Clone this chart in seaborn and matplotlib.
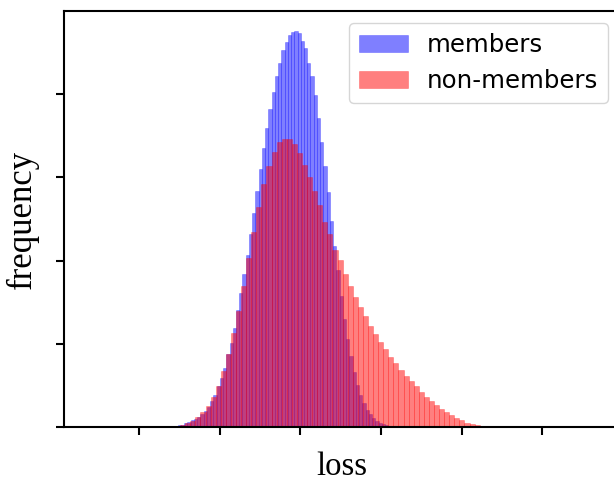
import numpy as np
import pandas as pd
import matplotlib
matplotlib.use("Agg")
import matplotlib.pyplot as plt
import seaborn as sns

# bin ranges (x in loss units)
member_range = (1.399, 4.129)
nonmember_range = (1.384, 5.411)

# bar heights (frequency) per bin
members = [8, 10, 12, 16, 24, 32, 42, 51, 63, 78, 96, 123, 157, 193, 247, 293,
           353, 439, 507, 593, 702, 806, 918, 1032, 1157, 1287, 1415, 1547,
           1672, 1794, 1906, 2010, 2104, 2183, 2265, 2313, 2355, 2373, 2379,
           2365, 2319, 2273, 2183, 2104, 1990, 1856, 1708, 1566, 1409, 1235,
           1086, 942, 786, 648, 527, 427, 329, 253, 193, 147, 104, 80, 56, 40,
           28, 20, 12, 8]
non_members = [8, 10, 14, 26, 38, 62, 93, 128, 180, 247, 337, 437, 565, 698,
               850, 1016, 1169, 1319, 1457, 1565, 1650, 1708, 1726, 1726, 1696,
               1643, 1571, 1501, 1415, 1331, 1231, 1159, 1066, 1002, 918, 846,
               780, 720, 666, 607, 559, 511, 469, 421, 385, 343, 307, 277, 247,
               211, 181, 157, 134, 110, 90, 74, 56, 42, 28, 22, 16, 10, 8, 6]

x_ticks = [1, 2, 3, 4, 5, 6]
y_ticks = [0, 500, 1000, 1500, 2000]

edges_m = np.linspace(member_range[0], member_range[1], len(members) + 1)
edges_n = np.linspace(nonmember_range[0], nonmember_range[1], len(non_members) + 1)
df_m = pd.DataFrame({'loss': (edges_m[:-1] + edges_m[1:]) / 2, 'freq': members})
df_n = pd.DataFrame({'loss': (edges_n[:-1] + edges_n[1:]) / 2, 'freq': non_members})

plt.rcParams['axes.linewidth'] = 1.5
plt.rcParams['xtick.major.width'] = 1.5
plt.rcParams['ytick.major.width'] = 1.5
plt.rcParams['xtick.major.size'] = 5.8
plt.rcParams['ytick.major.size'] = 5.8

fig = plt.figure(figsize=(6.14, 4.82), dpi=100)
ax = fig.add_axes([64 / 614, 1 - 427.3 / 482, (620.5 - 64) / 614, (427.3 - 10.7) / 482])

# blue first, red on top (overlap shows purple)
sns.histplot(data=df_m, x='loss', weights='freq', bins=list(edges_m), color='blue', alpha=0.5,
             edgecolor=(0, 0, 1, 0.35), linewidth=0.5, label='members', ax=ax)
sns.histplot(data=df_n, x='loss', weights='freq', bins=list(edges_n), color='red', alpha=0.5,
             edgecolor=(1, 0, 0, 0.35), linewidth=0.5, label='non-members', ax=ax)

ax.set_xlim(0.0706, 6.967)
ax.set_xticks(x_ticks)
ax.set_xticklabels([])
ax.set_yticks(y_ticks)
ax.set_yticklabels([])
ax.set_xlabel('loss', family='Liberation Serif', fontsize=23.5, labelpad=8)
ax.set_ylabel('frequency', family='Liberation Serif', fontsize=25, labelpad=9)
ax.legend(loc='upper right', prop={'family': 'DejaVu Sans', 'size': 17.6})

fig.savefig('out.png', dpi=100)
